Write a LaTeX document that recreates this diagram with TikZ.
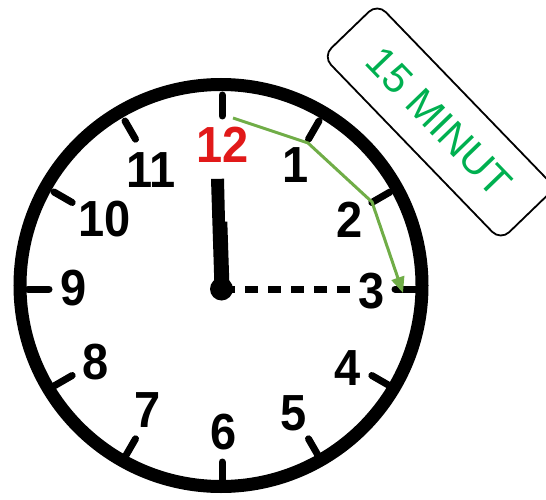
\documentclass[tikz,border=0pt]{standalone}
\usepackage{fontspec}
\setmainfont{Liberation Sans}
\usetikzlibrary{arrows.meta}
\definecolor{arrowgreen}{RGB}{112,173,71}
\definecolor{labelgreen}{RGB}{0,176,80}
\definecolor{twelvered}{RGB}{225,25,25}
\newcommand{\clocknum}[1]{\scalebox{1}[1.08]{#1}}
\begin{document}
\begin{tikzpicture}[x=1pt,y=-1pt,
  tickmark/.style={line width=7pt,line cap=round},
  numeral/.style={inner sep=0pt,font=\bfseries\fontsize{47}{47}\selectfont},
  minutehand/.style={line width=7pt,dash pattern=on 13pt off 10pt},
  pathline/.style={draw=arrowgreen,line width=3pt,line join=round},
  labelbox/.style={draw,line width=1.8pt,rounded corners=12pt,minimum width=256pt,minimum height=76pt,text=labelgreen,font=\fontsize{41.5}{41.5}\selectfont,inner sep=0pt}]
\useasboundingbox (0,0) rectangle (546,500);
\coordinate (c) at (222,289);
% ring
\draw[line width=13pt] (221,285.5) circle[radius=201];
% ticks
\foreach \a in {0,30,...,330}{
  \draw[tickmark] ([shift={(90-\a:173)}]c) -- ([shift={(90-\a:194)}]c);
}
% numerals
\node[numeral,text=twelvered] (n12) at (222.5,145) {\clocknum{12}};
\node[numeral] (n1) at (296,165) {\clocknum{1}};
\node[numeral] (n2) at (350,220) {\clocknum{2}};
\node[numeral] (n3) at (372,291) {\clocknum{3}};
\node[numeral] (n4) at (348,368) {\clocknum{4}};
\node[numeral] (n5) at (294,413) {\clocknum{5}};
\node[numeral] (n6) at (224,432) {\clocknum{6}};
\node[numeral] (n7) at (148,410) {\clocknum{7}};
\node[numeral] (n8) at (96,362) {\clocknum{8}};
\node[numeral] (n9) at (73.5,288) {\clocknum{9}};
\node[numeral] (n10) at (105,219) {\clocknum{10}};
\node[numeral] (n11) at (151,170) {\clocknum{11}};
% minute hand (dashed)
\coordinate (mend) at (352,289);
\draw[minutehand] (c) -- (mend);
% hour hand
\fill (211,179) -- (224,178.7) -- (225,221.5) -- (227.3,221.7) -- (229.3,282) -- (214.3,282) -- cycle;
\fill (221.5,289) circle[radius=11.5];
% green path
\coordinate (g0) at (233,118);
\coordinate (g1) at (308,143);
\coordinate (g2) at (372,202);
\coordinate (g3) at (403,293);
\draw[pathline,-{Triangle[length=16pt,width=13pt]}] (g0) -- (g1) -- (g2) -- (g3);
% label
\node[labelbox,rotate=-46] (lab) at (439,122) {15 MINUT};
\end{tikzpicture}
\end{document}
